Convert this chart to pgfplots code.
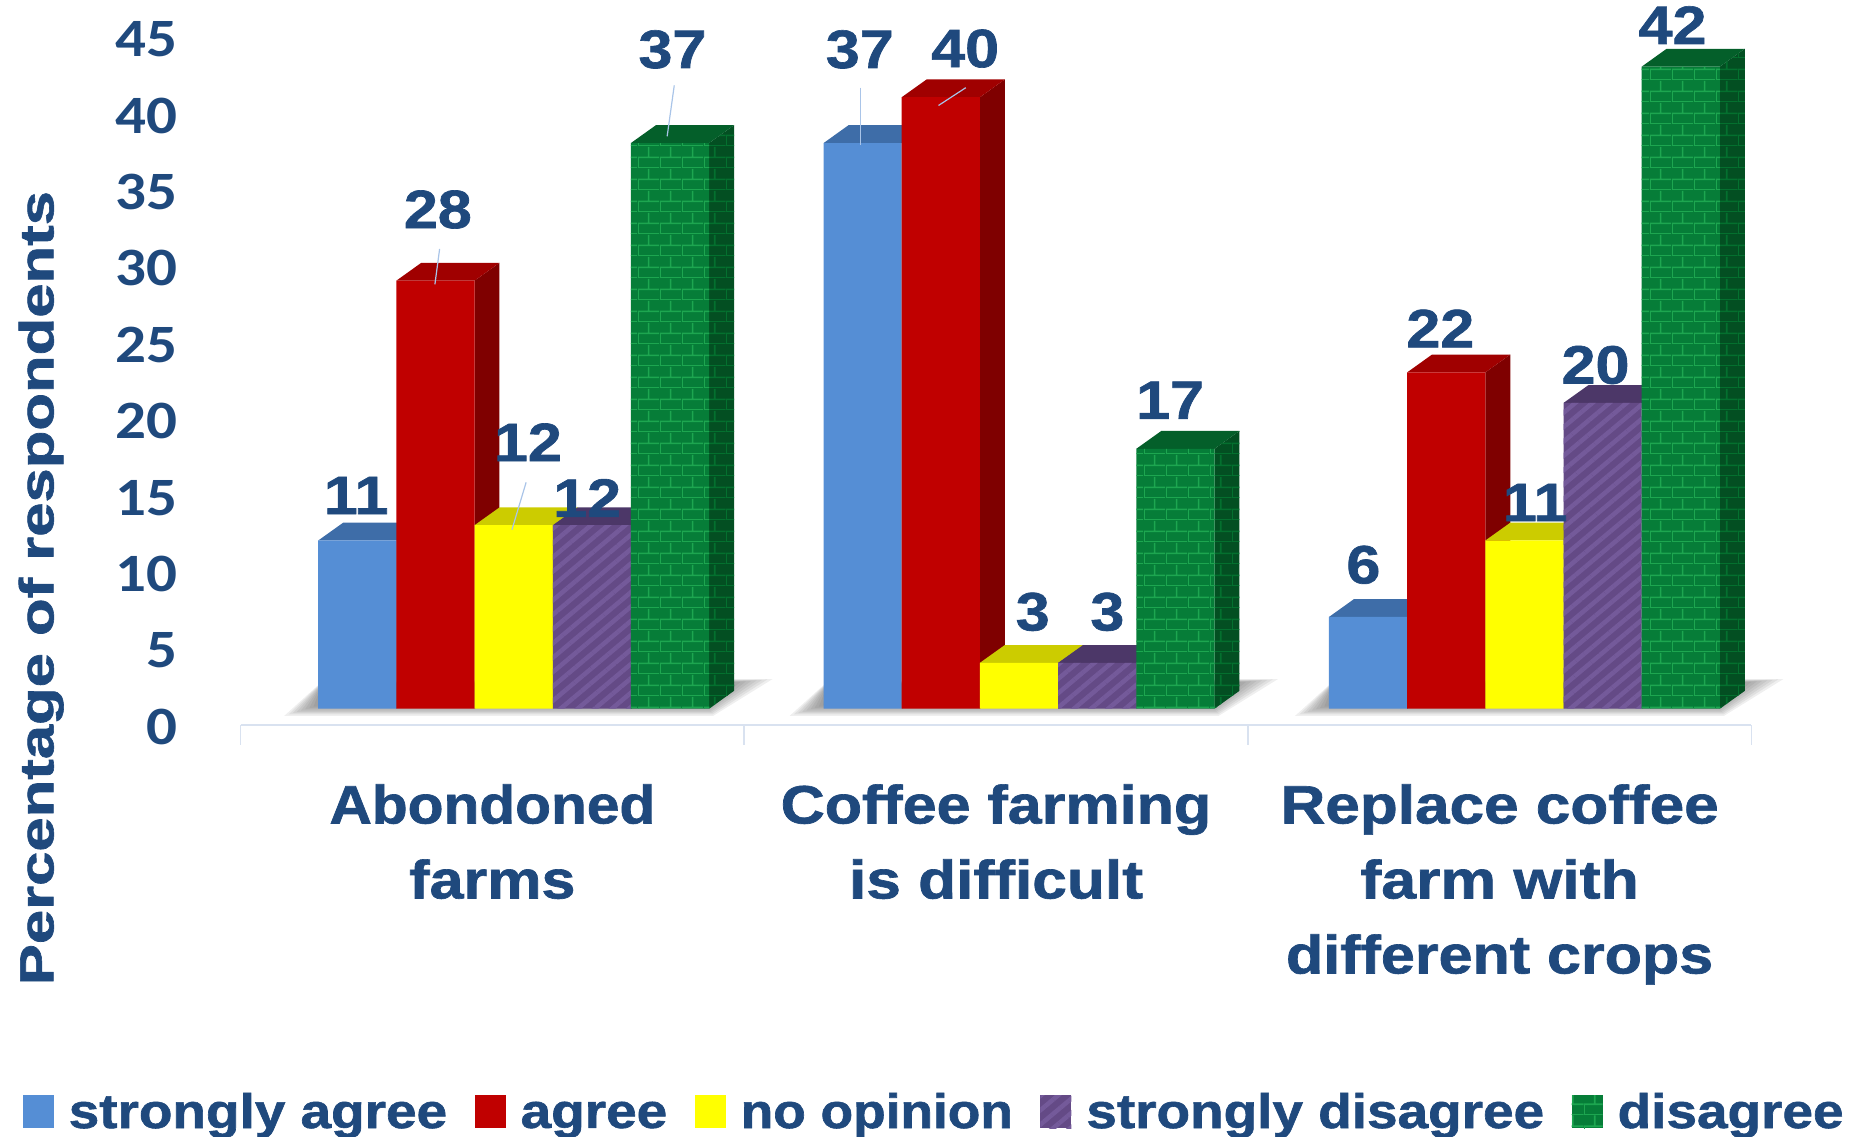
\documentclass[border=0pt]{standalone}
\usepackage{fontspec}
\setmainfont{Liberation Sans}[BoldFeatures={FakeBold=1.2}]
\newfontfamily\tickfont{Carlito}
\usepackage{pgfplots}
\usepackage{pgfplotstable}
\pgfplotsset{compat=1.18}
\usetikzlibrary{patterns,patterns.meta}

\definecolor{ink}{HTML}{1F497D}
\definecolor{lead}{HTML}{A9C4E8}
\definecolor{rule}{HTML}{D9E2F0}
\definecolor{blueF}{HTML}{558ED5}\definecolor{blueT}{HTML}{3E6DA8}
\definecolor{redF}{HTML}{C00000}\definecolor{redS}{HTML}{7F0000}\definecolor{redT}{HTML}{A00000}
\definecolor{yelF}{HTML}{FFFF00}\definecolor{yelS}{HTML}{A8A800}\definecolor{yelT}{HTML}{CCCC00}
\definecolor{purF}{HTML}{644A86}\definecolor{purL}{HTML}{745A9A}\definecolor{purT}{HTML}{4C3768}
\definecolor{grnF}{HTML}{067D38}\definecolor{grnL}{HTML}{1DA650}\definecolor{grnS}{HTML}{034F22}\definecolor{grnM}{HTML}{04702F}\definecolor{grnT}{HTML}{045F2A}

% brick courses, 20 wide and 10 high
\pgfdeclarepatternformonly{coursedbricks}{\pgfqpoint{0pt}{0pt}}{\pgfqpoint{22pt}{22pt}}{\pgfqpoint{22pt}{22pt}}{%
  \pgfsetlinewidth{1.6pt}%
  \pgfpathmoveto{\pgfqpoint{0pt}{0pt}}\pgfpathlineto{\pgfqpoint{22pt}{0pt}}%
  \pgfpathmoveto{\pgfqpoint{0pt}{11pt}}\pgfpathlineto{\pgfqpoint{22pt}{11pt}}%
  \pgfpathmoveto{\pgfqpoint{0pt}{0pt}}\pgfpathlineto{\pgfqpoint{0pt}{11pt}}%
  \pgfpathmoveto{\pgfqpoint{11pt}{11pt}}\pgfpathlineto{\pgfqpoint{11pt}{22pt}}%
  \pgfusepath{stroke}}

\newcommand\sx[2][1.13]{\scalebox{#1}[1]{#2}}

\pgfplotstableread{
cat sa a no sd d
0 11 28 12 12 37
1 37 40 3 3 17
2 6 22 11 20 42
}\responses

% label positions: offset from the top of each bar
\pgfplotstableread{
x y dx dy
-0.26895 11 -1 38
-0.1143 28 2 60
0.04045 12 12 70
0.19515 12 -4 23
0.34985 37 2 79
0.73105 37 -2.5 79
0.8857 40 20.5 41
1.04045 3 11.5 43
1.19515 3 8.5 43
1.34985 17 -4.5 41
1.73105 6 -4 44
1.8857 22 -5 37
2.04045 11 9 32
2.19515 20 -6 32
2.34985 42 -7 35
}\labelpos

\def\barw{0.1547}
\def\grpoff{0.04045}
\def\depx{0.0492}
\def\depy{1.163}

% side and top faces of the three bars of one series
% #1 column, #2 position in group, #3 side style, #4 top style
\newcommand\depthfaces[4]{%
  \pgfplotsforeachungrouped \r in {0,1,2}{%
    \pgfplotstablegetelem{\r}{#1}\of\responses
    \let\v\pgfplotsretval
    \pgfmathsetmacro\xl{\r+(#2-2.5)*\barw+\grpoff}%
    \pgfmathsetmacro\xr{\xl+\barw}%
    \pgfmathsetmacro\xrd{\xr+\depx}%
    \pgfmathsetmacro\xld{\xl+\depx}%
    \pgfmathsetmacro\vd{\v+\depy}%
    \edef\faces{%
      \noexpand\addplot[forget plot,draw=none,#3] coordinates {(\xr,0) (\xrd,\depy) (\xrd,\vd) (\xr,\v)} -- cycle;
      \noexpand\addplot[forget plot,draw=none,#4] coordinates {(\xl,\v) (\xr,\v) (\xrd,\vd) (\xld,\vd)} -- cycle;
    }\faces
  }%
}

\begin{document}
\begin{tikzpicture}
\useasboundingbox (0,0) rectangle (1858pt,-1136pt);

% soft floor shadows
\begin{scope}[x=1.185pt,y=-1.185pt]
\foreach \g in {0,426.5,853}{
  \foreach \i in {0,...,8}{
    \fill[black!70,opacity=0.09]
      ({\g+240+\i*3.5},{604-\i*1.1}) -- ({\g+272},{575+\i*0.3}) -- ({\g+652-\i*4.5},{573+\i*0.4}) -- ({\g+602-\i*0.7},{604-\i*1.1}) -- cycle;
  }
}
\end{scope}

% scale and category axis
\begin{axis}[
  at={(240.56pt,-724.6pt)},anchor=south west,
  scale only axis,width=1510.9pt,height=687.9pt,
  xmin=-0.5,xmax=2.5,ymin=0,ymax=45,
  axis x line=bottom,axis y line=left,axis line style={-},
  x axis line style={draw=rule,line width=2pt},
  y axis line style={draw=none},
  ytick={0,5,...,45},ytick style={draw=none},
  yticklabel={\sx{\tickfont\bfseries\pgfmathprintnumber[assume math mode=true]{\tick}}},
  yticklabel style={font=\fontsize{54}{60}\selectfont,text=ink,anchor=east,inner sep=0pt,xshift=-63pt,yshift=-2.4pt},
  xtick={0,1,2},
  major x tick style={draw=none},
  major tick length=0pt,
  minor xtick={-0.5,0.5,1.5,2.5},
  minor tick length=20pt,
  tick align=outside,
  minor x tick style={draw=rule,line width=1.5pt},
  xticklabels={{\sx[1.086]{Abondoned}\\\sx{farms}},{\sx{Coffee farming}\\\sx[1.153]{is difficult}},{\sx[1.15]{Replace coffee}\\\sx[1.16]{farm with}\\\sx{different crops}}},
  xticklabel style={font=\fontsize{54}{75}\selectfont\bfseries,text=ink,align=center,anchor=north,inner sep=0pt,yshift=-59.5pt},
  ylabel={\scalebox{1}[0.78]{Percentage of respondents}},
  every axis y label/.style={at={(axis description cs:-0.132,0.1985)},anchor=center,rotate=90,font=\fontsize{61.6}{70}\selectfont\bfseries,text=ink},
]
\addplot[draw=none,forget plot] coordinates {(0,0)};
\end{axis}

% bars with their depth faces
\begin{axis}[
  at={(240.56pt,-708.63pt)},anchor=south west,
  scale only axis,width=1516.2pt,height=718.5pt,
  xmin=-0.5,xmax=2.5,ymin=0,ymax=47,
  axis lines=none,clip=false,
  legend columns=5,
  legend cell align=left,
  legend image code/.code={\path[#1,draw=none] (0pt,-17pt) rectangle (31pt,16pt);},
  legend style={at={(axis description cs:-0.1438,-0.5602)},anchor=west,draw=none,fill=none,inner sep=0pt,
    font=\fontsize{48.6}{50}\selectfont\bfseries,text=ink,
    /tikz/every odd column/.append style={column sep=13pt},
    /tikz/every even column/.append style={column sep=25.5pt}},
]
\depthfaces{sa}{0}{fill=blueT}{fill=blueT}
\addplot[ybar,bar width=78.2pt,bar shift=-136pt,draw=none,fill=blueF] table[x=cat,y=sa] {\responses};
\addlegendentry{\sx{\strut strongly agree}}

\depthfaces{a}{1}{fill=redS}{fill=redT}
\addplot[ybar,bar width=78.2pt,bar shift=-57.8pt,draw=none,fill=redF] table[x=cat,y=a] {\responses};
\addlegendentry{\sx{\strut agree}}

\depthfaces{no}{2}{fill=yelS}{fill=yelT}
\addplot[ybar,bar width=78.2pt,bar shift=20.4pt,draw=none,fill=yelF] table[x=cat,y=no] {\responses};
\addlegendentry{\sx[1.096]{\strut no opinion}}

\depthfaces{sd}{3}{fill=purT}{fill=purT}
\addplot[ybar,bar width=78.2pt,bar shift=98.6pt,draw=none,preaction={fill=purF},pattern={Lines[angle=40,distance=11pt,line width=4.5pt]},pattern color=purL] table[x=cat,y=sd] {\responses};
\addlegendentry{\sx{\strut strongly disagree}}

\depthfaces{d}{4}{preaction={fill=grnS},pattern=coursedbricks,pattern color=grnM}{fill=grnT}
\addplot[ybar,bar width=78.2pt,bar shift=176.8pt,draw=none,preaction={fill=grnF},pattern=coursedbricks,pattern color=grnL] table[x=cat,y=d] {\responses};
\addlegendentry{\sx{\strut disagree}}

% value labels, above every bar
\addplot[forget plot,draw=none,mark=none,
  point meta=y,
  visualization depends on={\thisrow{dx} \as \ldx},
  visualization depends on={\thisrow{dy} \as \ldy},
  nodes near coords={\sx{\pgfmathprintnumber[assume math mode=true,precision=0]{\pgfplotspointmeta}}},
  every node near coord/.style={anchor=center,inner sep=0pt,font=\fontsize{54}{60}\selectfont\bfseries,text=ink,
    xshift={1.185*\ldx},yshift={1.185*\ldy}},
] table[x=x,y=y] {\labelpos};
\end{axis}

% leader lines from labels to bars
\begin{scope}[x=1.185pt,y=-1.185pt]
\draw[lead,line width=1.2pt] (371,210)--(367,240);
\draw[lead,line width=1.2pt] (444,407)--(432,447);
\draw[lead,line width=1.2pt] (569,72)--(563,115);
\draw[lead,line width=1.2pt] (726,74)--(726,122);
\draw[lead,line width=1.2pt] (815,74)--(792,89);
\end{scope}
\end{tikzpicture}
\end{document}
